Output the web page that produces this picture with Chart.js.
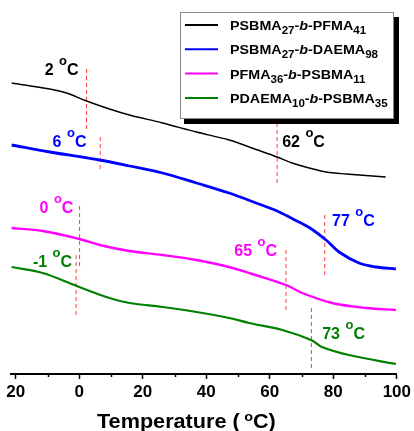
<!DOCTYPE html>
<html>
<head>
<meta charset="utf-8">
<script src="https://cdn.jsdelivr.net/npm/chart.js@4.4.1/dist/chart.umd.min.js"></script>
<style>
html,body{margin:0;padding:0;background:#fff;}
#wrap{width:414px;height:431px;position:relative;}
</style>
</head>
<body>
<div id="wrap"><canvas id="c" width="414" height="431"></canvas></div>
<script>
// ---- data (temperature in °C, heat flow in arbitrary units, curves offset) ----
const seriesNames = ['PSBMA27-b-PFMA41', 'PSBMA27-b-DAEMA98', 'PFMA36-b-PSBMA11', 'PDAEMA10-b-PSBMA35'];
const seriesColors = ['#000000', '#0000ff', '#ff00ff', '#008000'];

const blackT = [-21.3, -9.3, -4, 2.3, 9.5, 15.8, 26.2, 36.9, 47.2, 55.7, 62.3, 67, 72.4, 77.7, 84, 96.5];
const blackY = [291, 285, 281, 273, 265, 259, 251, 242, 234, 224.5, 217, 211, 206, 202, 200, 197];

const blueT = [-21.3, -9.3, 6.4, 15.8, 26.2, 36.9, 47.2, 55.7, 62.3, 67, 72.4, 77.7, 81.8, 88.1, 93.4, 99.7];
const blueY = [229, 222, 214, 208, 201, 191, 181, 171, 163, 155.5, 146.5, 134, 122, 111, 107, 105];

const pinkT = [-21.3, -11.5, 0.1, 6.4, 15.8, 26.2, 36.9, 47.2, 54.5, 65.1, 70.2, 79.6, 90.3, 99.7];
const pinkY = [146, 143, 135, 129, 123, 119, 114, 107, 100, 89, 81, 71, 66, 64];

const greenT = [-21.3, -11.5, -0.8, 9.5, 15.8, 26.2, 36.9, 47.2, 53.5, 63.9, 73, 76.4, 84.9, 99.7];
const greenY = [107, 101, 88, 76, 71, 67, 62, 56, 51, 44, 34, 27, 19, 10];

// transition markers: temperature, dashed segment from/to (same y units)
const markerT = [2.3, 6.6, 0.1, -1.0, 62.3, 77.3, 65.1, 73.1];
const markerY1 = [305, 237, 168, 119, 251, 159, 124, 66];
const markerY2 = [242, 202, 106, 57, 188, 97, 62, 4];

// transition labels
const labelText = ['2', '6', '0', '-1', '62', '77', '65', '73'];
const labelT = [-10.9, -8.4, -12.5, -14.6, 63.9, 79.6, 48.8, 76.5];
const labelY = [299, 227, 161, 107, 227, 148, 118, 35];
const labelSeries = [0, 1, 2, 3, 0, 1, 2, 3];

// axis
const tickValues = [-20, 0, 20, 40, 60, 80, 100];
const tickLabels = ['20', '0', '20', '40', '60', '80', '100'];
const minorTicks = [-10, 10, 30, 50, 70, 90];
const xTitle = ['Temperature (', 'o', 'C)'];
const xMin = -21.5, xMax = 100, yMin = 0, yMax = 374;

// ---- build ----
const FONT = "'Liberation Sans', Arial, sans-serif";
Chart.defaults.font.family = FONT;

const zip = (xs, ys) => xs.map((x, i) => ({x: x, y: ys[i]}));
const curveT = [blackT, blueT, pinkT, greenT];
const curveY = [blackY, blueY, pinkY, greenY];
const widths = [1.4, 2.8, 2.4, 2.2];

const datasets = seriesNames.map((n, i) => ({
  label: n,
  data: zip(curveT[i], curveY[i]),
  borderColor: seriesColors[i],
  borderWidth: widths[i],
  pointRadius: 0,
  tension: 0.35,
  fill: false
}));
markerT.forEach((t, i) => {
  datasets.push({
    label: 'T ' + labelText[i],
    data: [{x: t, y: markerY1[i]}, {x: t, y: markerY2[i]}],
    borderColor: 'rgba(255,40,40,0.9)',
    borderWidth: 1,
    borderDash: [4, 3],
    pointRadius: 0,
    fill: false
  });
});

function parseName(name) {
  const parts = [];
  name.split(/(\d+|-b-)/).forEach(p => {
    if (!p) return;
    if (/^\d+$/.test(p)) parts.push({t: p, sub: true});
    else if (p === '-b-') { parts.push({t: '-'}); parts.push({t: 'b', it: true}); parts.push({t: '-'}); }
    else parts.push({t: p});
  });
  return parts;
}

const overlay = {
  id: 'overlay',
  afterDraw(chart) {
    const ctx = chart.ctx;
    const xs = chart.scales.x, ys = chart.scales.y;
    ctx.save();
    // minor ticks
    ctx.strokeStyle = '#000';
    ctx.lineWidth = 1.5;
    minorTicks.forEach(v => {
      const px = Math.round(xs.getPixelForValue(v)) + 0.5;
      ctx.beginPath();
      ctx.moveTo(px, ys.bottom);
      ctx.lineTo(px, ys.bottom + 3);
      ctx.stroke();
    });
    // axis title with superscript o
    ctx.fillStyle = '#000';
    ctx.textBaseline = 'alphabetic';
    ctx.save();
    ctx.translate(97, 428);
    ctx.scale(1.11, 1);
    let tx = 0;
    ctx.font = 'bold 19.5px ' + FONT;
    ctx.fillText(xTitle[0], tx, 0);
    tx += ctx.measureText(xTitle[0]).width + 4;
    ctx.font = 'bold 13px ' + FONT;
    ctx.fillText(xTitle[1], tx, -7);
    tx += ctx.measureText(xTitle[1]).width;
    ctx.font = 'bold 19.5px ' + FONT;
    ctx.fillText(xTitle[2], tx, 0);
    ctx.restore();
    // transition labels
    labelText.forEach((txt, i) => {
      let x = xs.getPixelForValue(labelT[i]);
      const y = ys.getPixelForValue(labelY[i]);
      ctx.fillStyle = seriesColors[labelSeries[i]];
      ctx.font = 'bold 16px ' + FONT;
      ctx.fillText(txt + ' ', x, y);
      x += ctx.measureText(txt + ' ').width + 1;
      ctx.font = 'bold 13px ' + FONT;
      ctx.fillText('o', x, y - 10);
      x += ctx.measureText('o').width;
      ctx.font = 'bold 16px ' + FONT;
      ctx.fillText('C', x, y);
    });
    // legend box
    const bx = 180, by = 12, bw = 213, bh = 106;
    ctx.fillStyle = '#000';
    ctx.fillRect(bx + bw, by + 5, 6, bh + 1);
    ctx.fillRect(bx + 4, by + bh, bw + 2, 6);
    ctx.fillStyle = '#fff';
    ctx.fillRect(bx, by, bw, bh);
    ctx.strokeStyle = '#8a8a8a';
    ctx.lineWidth = 1;
    ctx.strokeRect(bx + 0.5, by + 0.5, bw, bh);
    seriesNames.forEach((name, i) => {
      const cy = by + 13 + i * 24.3;
      ctx.strokeStyle = seriesColors[i];
      ctx.lineWidth = 2;
      ctx.beginPath();
      ctx.moveTo(185, cy);
      ctx.lineTo(218, cy);
      ctx.stroke();
      ctx.save();
      ctx.translate(230, cy + 5);
      ctx.scale(1.1, 1);
      let x = 0;
      ctx.fillStyle = '#000';
      parseName(name).forEach(p => {
        if (p.sub) {
          ctx.font = 'bold 10.5px ' + FONT;
          ctx.fillText(p.t, x, 4);
        } else if (p.it) {
          ctx.font = 'italic bold 13px ' + FONT;
          ctx.fillText(p.t, x, 0);
        } else {
          ctx.font = 'bold 13px ' + FONT;
          ctx.fillText(p.t, x, 0);
        }
        x += ctx.measureText(p.t).width;
      });
      ctx.restore();
    });
    ctx.restore();
  }
};

new Chart(document.getElementById('c'), {
  type: 'line',
  data: {datasets: datasets},
  plugins: [overlay],
  options: {
    responsive: false,
    animation: false,
    devicePixelRatio: 1,
    layout: {padding: {left: 11, right: 16, top: 0, bottom: 0}},
    plugins: {legend: {display: false}, tooltip: {enabled: false}},
    scales: {
      x: {
        type: 'linear',
        min: xMin, max: xMax,
        afterBuildTicks: s => { s.ticks = tickValues.concat(minorTicks).sort((a, b) => a - b).map(v => ({value: v})); },
        afterFit: s => { s.height = 57; },
        border: {display: true, color: '#000', width: 2},
        grid: {
          drawOnChartArea: false, drawTicks: true, tickLength: 5, tickWidth: 1.5,
          tickColor: c => (c.tick && tickValues.includes(c.tick.value)) ? '#000' : 'rgba(0,0,0,0)'
        },
        ticks: {
          autoSkip: false, maxRotation: 0, padding: 3, color: '#000',
          font: {size: 17, weight: 'bold'},
          callback: v => { const k = tickValues.indexOf(v); return k >= 0 ? tickLabels[k] : ''; }
        },
        title: {display: false}
      },
      y: {type: 'linear', min: yMin, max: yMax, display: false}
    }
  }
});
</script>
</body>
</html>
